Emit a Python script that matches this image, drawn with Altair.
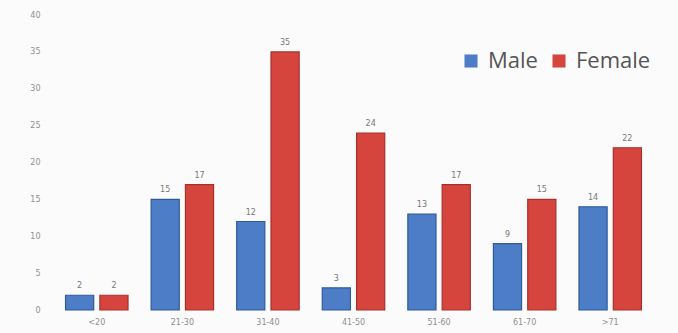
import altair as alt
import pandas as pd

categories = ["<20", "21-30", "31-40", "41-50", "51-60", "61-70", ">71"]
male = [2, 15, 12, 3, 13, 9, 14]
female = [2, 17, 35, 24, 17, 15, 22]
series = ["Male", "Female"]
colors = ["#4c7dc6", "#d6443e"]
strokes = ["#2f5a9c", "#a8302c"]

rows = []
for c, m, f in zip(categories, male, female):
    rows.append({"cat": c, "sex": "Male", "value": m})
    rows.append({"cat": c, "sex": "Female", "value": f})
df = pd.DataFrame(rows)

x = alt.X("cat:N", sort=categories, title=None,
          scale=alt.Scale(paddingInner=0.27, paddingOuter=0.135),
          axis=alt.Axis(labelAngle=0, labelFontSize=8, labelColor="#8f8f8f",
                        labelPadding=8, ticks=False, domain=False, labelFont="DejaVu Sans"))
xoff = alt.XOffset("sex:N", sort=series, scale=alt.Scale(paddingInner=0.18))
y = alt.Y("value:Q", title=None,
          scale=alt.Scale(domain=[0, 40]),
          axis=alt.Axis(values=[0, 5, 10, 15, 20, 25, 30, 35, 40], labelFontSize=8,
                        labelColor="#8f8f8f", labelPadding=14, ticks=False,
                        domain=False, grid=False, labelFont="DejaVu Sans"))

bars = alt.Chart(df).mark_bar(strokeWidth=1.2).encode(
    x=x, xOffset=xoff, y=y,
    color=alt.Color("sex:N", sort=series,
                    scale=alt.Scale(domain=series, range=colors),
                    legend=alt.Legend(title=None, orient="none", legendX=406, legendY=35,
                                      direction="horizontal", symbolType="square",
                                      symbolSize=170, labelFontSize=22, labelColor="#555555",
                                      labelFont="Open Sans", columnPadding=10,
                                      symbolStrokeWidth=0, labelOffset=6)),
    stroke=alt.Stroke("sex:N", sort=series,
                      scale=alt.Scale(domain=series, range=strokes), legend=None),
)

labels = alt.Chart(df).mark_text(dy=-9, fontSize=8, color="#777777", font="DejaVu Sans").encode(
    x=x, xOffset=xoff, y=y, text="value:Q"
)

chart = alt.layer(bars, labels).properties(
    width=599, height=295,
    background="#fbfbfb",
    padding={"left": 54, "top": 15, "right": 25, "bottom": 23},
    autosize=alt.AutoSizeParams(type="none"),
).configure_view(stroke=None)

chart.save("out.html", embed_options={"renderer": "svg", "actions": False})
